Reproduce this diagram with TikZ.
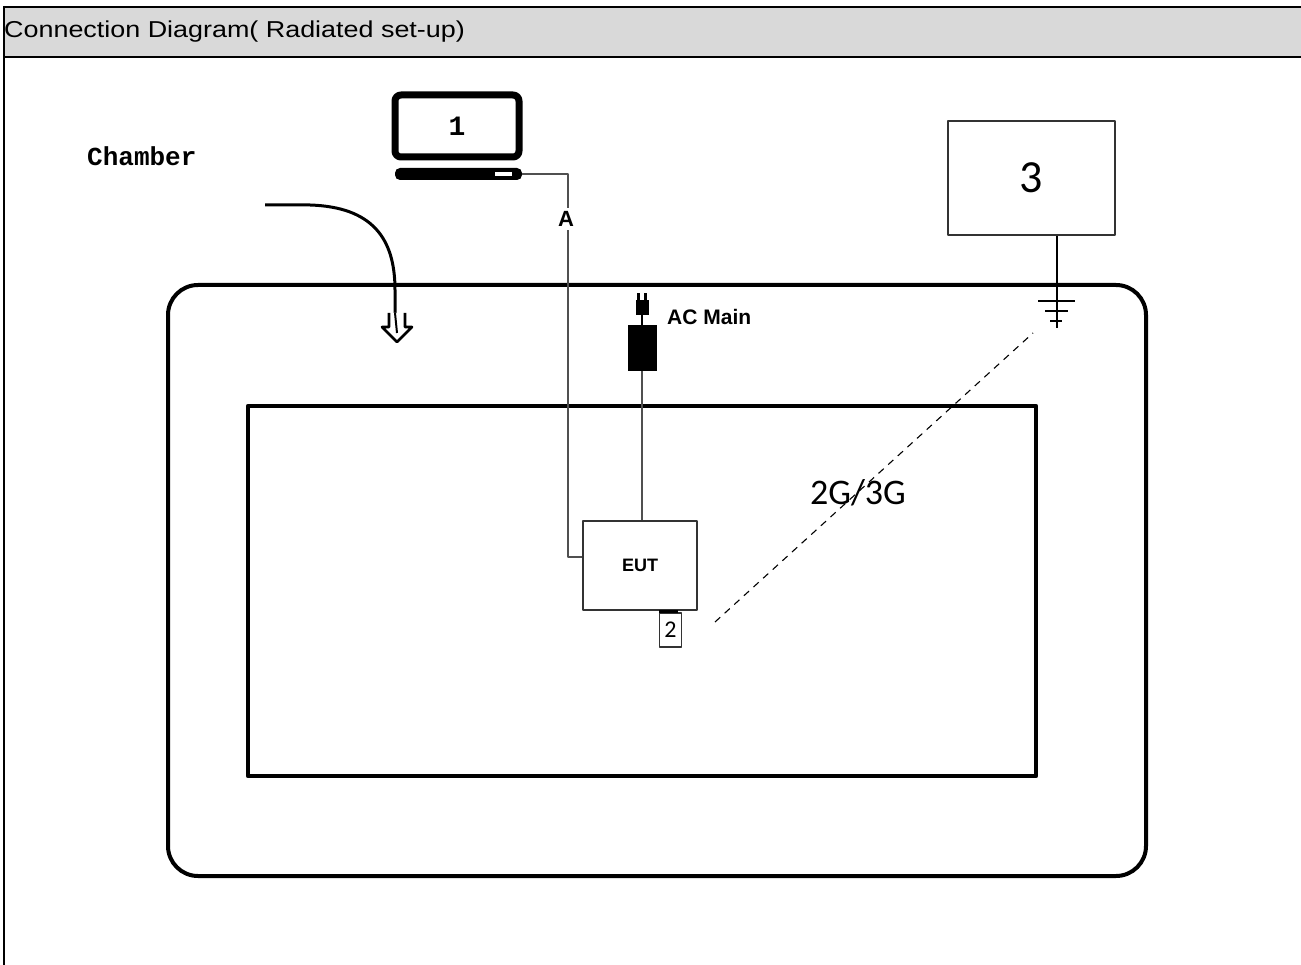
\documentclass[tikz,border=0pt]{standalone}
\usepackage{fontspec}
\setmainfont{Liberation Sans}
\newfontfamily\calfont{Carlito}
\newfontfamily\chamberfont{Liberation Mono}
\usetikzlibrary{positioning}

\definecolor{headgray}{HTML}{D9D9D9}
\definecolor{cablegray}{HTML}{505050}

\tikzset{
  cable/.style={draw=cablegray, line width=2pt},
  unitbox/.style={draw=black!80, line width=1.6pt, fill=white, inner sep=0pt},
  wall/.style={line width=4.5pt}
}

\begin{document}
\begin{tikzpicture}[x=1pt, y=-1pt, line join=round]
    \useasboundingbox (0, 0) rectangle (1301, 965);

    % header
    \fill[headgray] (3, 7) rectangle (1301, 57);
    \draw[line width=2.5pt] (3, 7) -- (1301, 7);
    \draw[line width=2.5pt] (3, 57) -- (1301, 57);
    \draw[line width=2pt] (3.5, 6) -- (3.5, 965);
    \node[anchor=west, inner sep=0pt, font=\fontsize{23}{25}\selectfont] (title) at (4, 32)
      {\scalebox{1.17}[1]{Connection Diagram( Radiated set-up)}};

    % chamber and table
    \draw[line width=4pt, rounded corners=30pt] (168, 285) rectangle (1146, 876);
    \draw[wall] (248, 406) rectangle (1036, 776);

    \node[anchor=west, inner sep=0pt, font=\chamberfont\bfseries\fontsize{26}{28}\selectfont]
      (chamber) at (87, 156) {Chamber};
    \coordinate (arrstart) at (265, 205);
    \coordinate (arrend) at (395, 313);
    \draw[line width=3pt]
      (arrstart) -- (310, 205) .. controls (372, 207) and (395, 238) .. (395, 290) -- (arrend);
    \draw[line width=2.6pt, fill=white]
      (389, 313) -- (389, 327) -- (382, 327) -- (397, 342) -- (412, 327) -- (405, 327) -- (405, 313);
    \draw[line width=2pt] (arrend) -- (397, 333);

    % laptop 1
    \node[draw, line width=7pt, rounded corners=6pt, fill=white, minimum width=124pt,
      minimum height=62pt, font=\chamberfont\bfseries\fontsize{28}{30}\selectfont]
      (laptop) at (457, 126) {1};
    \node[fill, rounded corners=5pt, minimum width=127pt, minimum height=12pt, inner sep=0pt]
      (base) at (458.5, 174) {};
    \fill[white] (495, 172) rectangle (512, 176);

    % EUT and sim
    \node[unitbox, minimum width=114pt, minimum height=89pt, font=\bfseries\fontsize{18}{20}\selectfont]
      (eut) at (640, 565.5) {EUT};
    \node[unitbox, line width=1.2pt, minimum width=22pt, minimum height=34pt,
      font=\calfont\fontsize{24}{26}\selectfont] (sim) at (670.5, 630) {2};
    \draw[line width=2.5pt] (659, 611.5) -- (678, 611.5);

    % cable A
    \coordinate (bend) at (568, 557);
    \draw[cable] (base.east) -| (bend) -- (bend -| eut.west);
    \node[fill=white, inner sep=3pt, font=\bfseries\fontsize{22}{24}\selectfont] (lblA) at (566, 219) {A};

    % AC main
    \node[fill, minimum width=29pt, minimum height=46pt, inner sep=0pt] (adapter) at (642, 348) {};
    \node[fill, minimum width=13pt, minimum height=15pt, inner sep=0pt] (plug) at (642, 307.5) {};
    \fill (637, 293) rectangle (640, 300);
    \fill (644, 293) rectangle (647, 300);
    \draw[line width=1.6pt] (plug.south) -- (adapter.north);
    \draw[cable] (adapter.south) -- (adapter.south |- eut.north);
    \node[anchor=west, inner sep=0pt, font=\bfseries\fontsize{21}{23}\selectfont]
      (acmain) at (667, 317) {AC Main};

    % station 3 with ground
    \node[draw=black!80, line width=1.6pt, minimum width=167pt, minimum height=114pt,
      font=\calfont\fontsize{46}{48}\selectfont] (station) at (1031.5, 178) {3};
    \coordinate (gnd) at (1057, 328);
    \draw[line width=1.6pt] (station.south -| gnd) -- (gnd);
    \draw[line width=1.6pt] (1038, 301) -- (1075, 301);
    \draw[line width=1.6pt] (1045, 311) -- (1068, 311);
    \draw[line width=1.6pt] (1050, 321) -- (1062, 321);

    % radio link
    \coordinate (sigA) at (715, 622);
    \coordinate (sigB) at (1033, 333);
    \draw[line width=1.1pt, dash pattern=on 7pt off 6pt] (sigA) -- (sigB);
    \node[font=\calfont\fontsize{36}{38}\selectfont, inner sep=0pt] (band) at (858, 493) {2G/3G};
\end{tikzpicture}
\end{document}
